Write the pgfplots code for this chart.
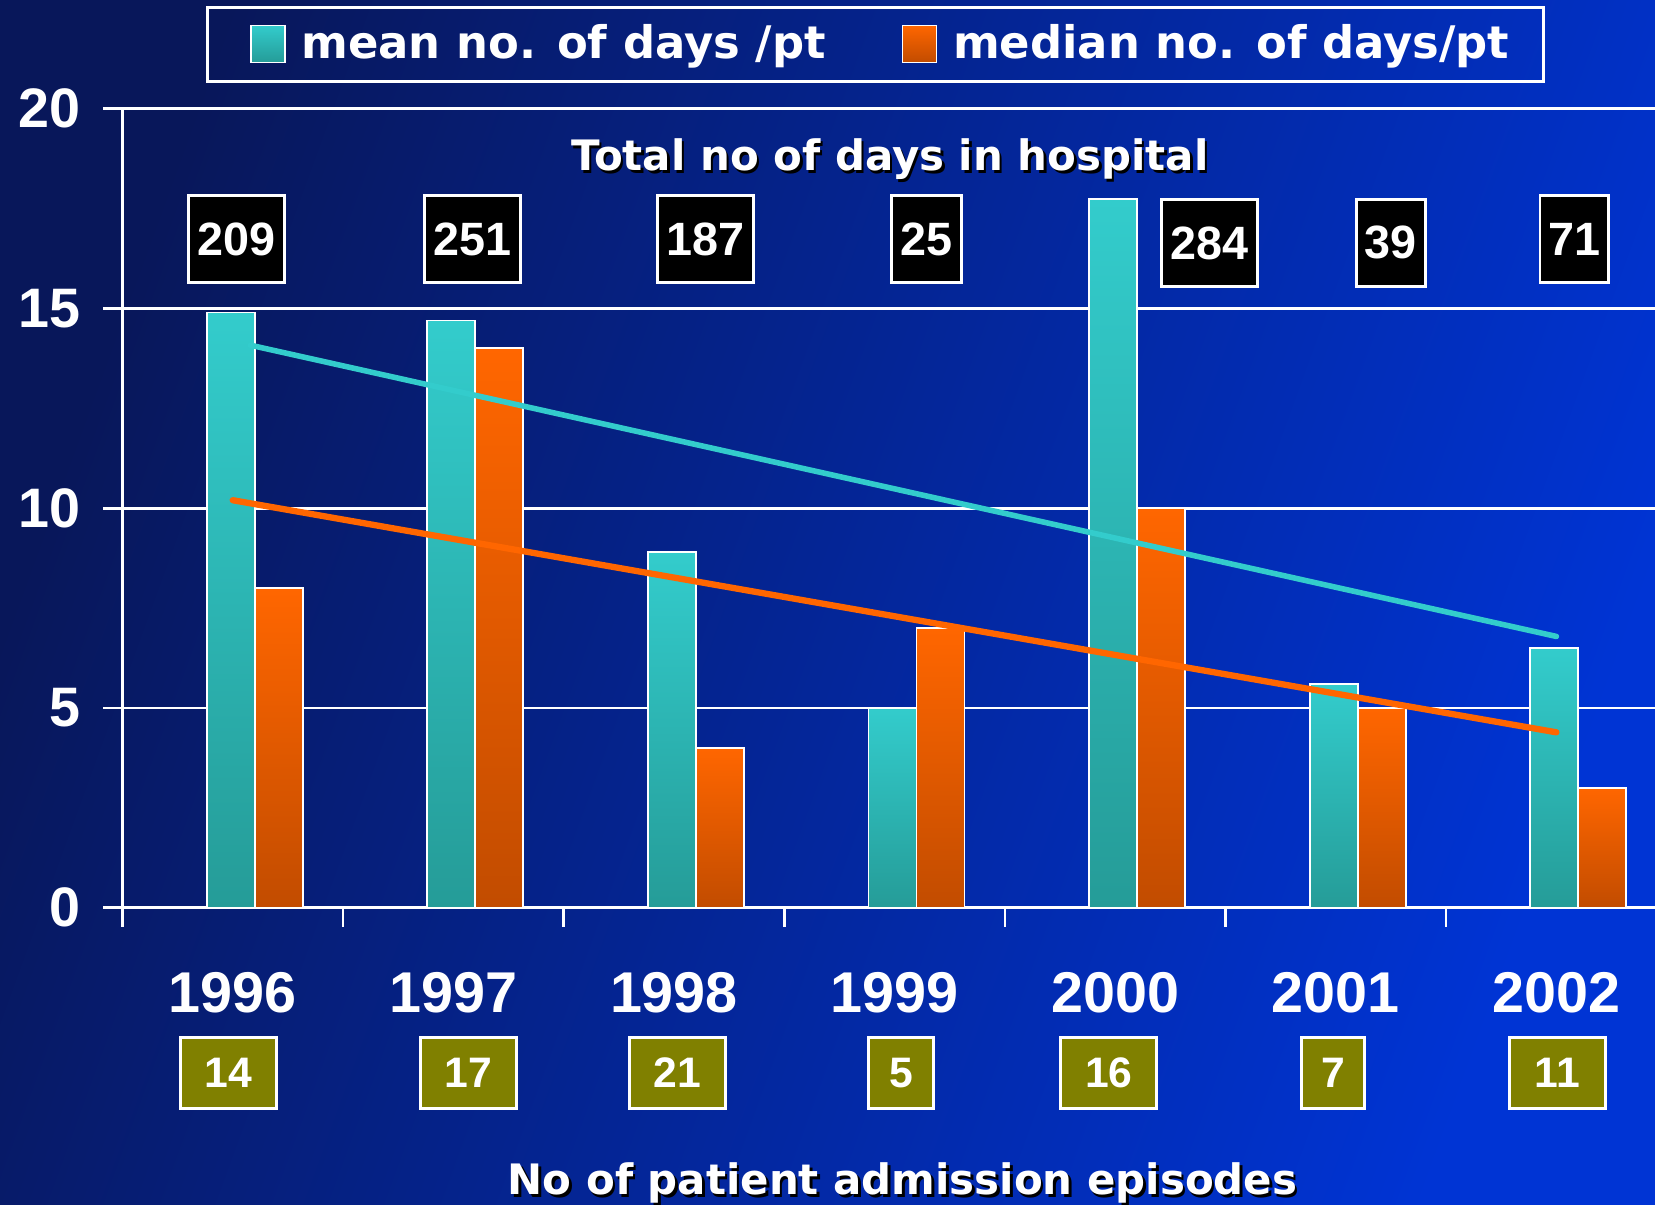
\documentclass[border=0pt]{standalone}
\usepackage{fontspec}
\setmainfont{Liberation Sans}
\newfontfamily\verd{DejaVu Sans}
\usepackage{pgfplots}
\pgfplotsset{compat=1.18}
\definecolor{bgdark}{HTML}{08175A}
\definecolor{bglight}{HTML}{0034D4}
\definecolor{teal1}{HTML}{33CCCC}
\definecolor{teal2}{HTML}{259C98}
\definecolor{orng1}{HTML}{FF6600}
\definecolor{orng2}{HTML}{C24C00}
\definecolor{olive1}{HTML}{808000}
\newcommand\vb[1]{\verd\bfseries\fontsize{#1}{#1}\selectfont}
\newcommand\ab[1]{\bfseries\fontsize{#1}{#1}\selectfont}
\tikzset{
  numbox/.style={fill=black, draw=white, line width=0.8pt, text=white,
    minimum height=0.83cm, inner sep=0pt, font=\ab{12.6}},
  epbox/.style={fill=olive1, draw=white, line width=0.8pt, text=white,
    minimum height=0.67cm, inner sep=0pt, font=\ab{11.5}},
}
% one plot per bar so that each bar gets its own gradient
\pgfplotsset{
  meanbar/.style={ybar, bar width=0.455cm, bar shift=-0.02cm, draw=white,
    line width=0.5pt, top color=teal1, bottom color=teal2},
  medbar/.style={ybar, bar width=0.455cm, bar shift=0.435cm, draw=white,
    line width=0.5pt, top color=orng1, bottom color=orng2},
}
\begin{document}
\begin{tikzpicture}
\shade[top color=bgdark, bottom color=bglight, shading angle=70] (0,0) rectangle (15.68,11.41);
\begin{axis}[
  at={(1.16cm,2.81cm)}, anchor=south west,
  width=14.52cm, height=7.57cm, scale only axis,
  xmin=-0.5, xmax=6.447, ymin=0, ymax=20,
  axis x line*=bottom, axis y line*=left,
  axis line style={white, line width=0.7pt, -},
  clip=false,
  tick align=outside,
  major tick length=0.18cm,
  tick style={white, line width=0.7pt},
  ytick={0,5,...,20},
  ymajorgrids, grid style={white, line width=0.7pt},
  xtick={-0.5,0.5,...,5.5}, xticklabels={},
  extra x ticks={0,1,2,3,4,5,6},
  extra x tick labels={1996,1997,1998,1999,2000,2001,2002},
  extra x tick style={major tick length=0pt, grid=none,
    tick label style={yshift=-0.49cm}},
  /pgf/number format/assume math mode=true,
  ticklabel style={text=white},
  yticklabel style={font=\ab{15}, xshift=-0.09cm},
  xticklabel style={font=\ab{15.5}},
  legend style={at={(0.4914,1.0806)}, anchor=center, draw=white, line width=0.8pt,
    fill=none, text=white, font=\vb{12.1}, legend columns=2,
    inner xsep=0.25cm, inner ysep=0.09cm,
    /tikz/every odd column/.append style={column sep=0.08cm},
    /tikz/every even column/.append style={column sep=0.50cm}},
  legend image code/.code={\path (0cm,0cm);
    \draw[#1, draw=white, line width=0.4pt] (0.15cm,-0.17cm) rectangle (0.47cm,0.18cm);},
]
\addplot[meanbar] coordinates {(0,14.9)};
\addlegendentry{mean no. of days /pt}
\addplot[medbar] coordinates {(0,8)};
\addlegendentry{median no. of days/pt}
\addplot[meanbar, forget plot] coordinates {(1,14.7)};
\addplot[meanbar, forget plot] coordinates {(2,8.9)};
\addplot[meanbar, forget plot] coordinates {(3,5.0)};
\addplot[meanbar, forget plot] coordinates {(4,17.73)};
\addplot[meanbar, forget plot] coordinates {(5,5.6)};
\addplot[meanbar, forget plot] coordinates {(6,6.5)};
\addplot[medbar, forget plot] coordinates {(1,14)};
\addplot[medbar, forget plot] coordinates {(2,4)};
\addplot[medbar, forget plot] coordinates {(3,7)};
\addplot[medbar, forget plot] coordinates {(4,10)};
\addplot[medbar, forget plot] coordinates {(5,5)};
\addplot[medbar, forget plot] coordinates {(6,3)};
% trend lines
\addplot[teal1, line width=1.5pt, line cap=round, forget plot]
  coordinates {(0.08,14.08)(6,6.79)};
\addplot[orng1, line width=1.7pt, line cap=round, forget plot]
  coordinates {(0,10.2)(6,4.39)};
% total days in hospital
\node[numbox, minimum width=0.91cm] at (axis cs:0.019,16.74) {209};
\node[numbox, minimum width=0.91cm] at (axis cs:1.086,16.74) {251};
\node[numbox, minimum width=0.91cm] at (axis cs:2.144,16.74) {187};
\node[numbox, minimum width=0.66cm] at (axis cs:3.146,16.74) {25};
\node[numbox, minimum width=0.91cm] at (axis cs:4.426,16.64) {284};
\node[numbox, minimum width=0.65cm] at (axis cs:5.249,16.64) {39};
\node[numbox, minimum width=0.65cm] at (axis cs:6.081,16.74) {71};
% admission episodes
\node[epbox, minimum width=0.91cm] at (axis cs:-0.019,-4.135) {14};
\node[epbox, minimum width=0.91cm] at (axis cs:1.067,-4.135) {17};
\node[epbox, minimum width=0.91cm] at (axis cs:2.014,-4.135) {21};
\node[epbox, minimum width=0.61cm] at (axis cs:3.029,-4.135) {5};
\node[epbox, minimum width=0.91cm] at (axis cs:3.971,-4.135) {16};
\node[epbox, minimum width=0.60cm] at (axis cs:4.988,-4.135) {7};
\node[epbox, minimum width=0.91cm] at (axis cs:6.005,-4.135) {11};
% titles with shadow
\node[text=black, font=\vb{11.3}, xshift=0.025cm, yshift=-0.025cm] at (axis cs:2.978,18.74) {Total no of days in hospital};
\node[text=white, font=\vb{11.3}] at (axis cs:2.978,18.74) {Total no of days in hospital};
\node[text=black, font=\vb{11.3}, xshift=0.025cm, yshift=-0.025cm] at (axis cs:3.036,-6.89) {No of patient admission episodes};
\node[text=white, font=\vb{11.3}] at (axis cs:3.036,-6.89) {No of patient admission episodes};
\end{axis}
\pgfresetboundingbox
\useasboundingbox (0,0) rectangle (15.68,11.41);
\end{tikzpicture}
\end{document}
